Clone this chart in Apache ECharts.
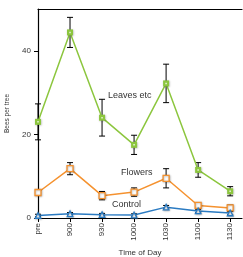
<!DOCTYPE html>
<html><head><meta charset="utf-8">
<script src="https://cdn.jsdelivr.net/npm/echarts@6/dist/echarts.min.js"></script>
<style>html,body{margin:0;padding:0;background:#fff}#c{width:243px;height:257px}</style>
</head><body><div id="c"></div>
<script>
var categories = ['pre','900','930','1000','1030','1100','1130'];
var leavesMean = [23.0, 44.4, 24.0, 17.5, 32.2, 11.5, 6.4];
var leavesErr  = [4.3, 3.6, 4.4, 2.3, 4.6, 1.75, 1.1];
var flowersMean = [6.1, 11.8, 5.35, 6.2, 9.5, 3.0, 2.4];
var flowersErr  = [0.7, 1.45, 1.0, 1.0, 2.3, 0.6, 0.7];
var controlMean = [0.6, 1.0, 0.8, 0.7, 2.6, 1.7, 1.2];
var controlErr  = [0.3, 0.3, 0.3, 0.3, 0.4, 0.4, 0.4];
var yTicks = [0, 20, 40];
var yMax = 50;
var seriesNames = ['Leaves etc', 'Flowers', 'Control'];

function pts(arr){ return arr.map(function(v,i){ return [i, v]; }); }
function errData(m, e){ return m.map(function(v,i){ return [i, v - e[i], v + e[i]]; }); }

var chart = echarts.init(document.getElementById('c'), null, {renderer:'canvas'});
var txt = '#333';
var font = 'Liberation Sans, Arial, sans-serif';

function errSeries(m, e){
  return {
    type: 'custom', z: 1,
    data: errData(m, e),
    renderItem: function(params, api){
      var x = api.value(0);
      var lo = api.coord([x, api.value(1)]);
      var hi = api.coord([x, api.value(2)]);
      var w = 3;
      var st = {stroke:'#000', lineWidth:1};
      return {type:'group', children:[
        {type:'line', shape:{x1:lo[0],y1:lo[1],x2:hi[0],y2:hi[1]}, style:st},
        {type:'line', shape:{x1:lo[0]-w,y1:lo[1],x2:lo[0]+w,y2:lo[1]}, style:st},
        {type:'line', shape:{x1:hi[0]-w,y1:hi[1],x2:hi[0]+w,y2:hi[1]}, style:st}
      ]};
    }
  };
}

var shadow = {shadowBlur:2, shadowColor:'rgba(0,0,0,0.3)', shadowOffsetX:0.5, shadowOffsetY:0.5};

chart.setOption({
  animation: false,
  backgroundColor: '#fff',
  grid: {left: 38, right: 1, top: 9, bottom: 39, outerBoundsMode: 'none'},
  xAxis: [{
    type: 'value', min: 0, max: 6.37,
    axisLine: {show:true, onZero:false, lineStyle:{color:'#000', width:1.2}},
    axisTick: {show:true, length:4, inside:false, customValues:[0,1,2,3,4,5,6], lineStyle:{color:'#000'}},
    axisLabel: {customValues:[0,1,2,3,4,5,6], rotate:90, align:'right', verticalAlign:'middle', margin:5, fontSize:8, color:txt, fontFamily:font, hideOverlap:false,
      formatter: function(v){ return categories[Math.round(v)] || ''; }},
    splitLine: {show:false},
    name: 'Time of Day', nameLocation:'middle', nameGap: 31,
    nameTextStyle: {fontSize:8, color:txt, fontFamily:font}
  },{
    type: 'value', position: 'top', min: 0, max: 6.37,
    axisLine: {show:true, onZero:false, lineStyle:{color:'#000', width:1.2}},
    axisTick: {show:false}, axisLabel: {show:false}, splitLine: {show:false}
  }],
  yAxis: {
    type: 'value', min: 0, max: yMax,
    axisLine: {show:true, onZero:false, lineStyle:{color:'#000', width:1.2}},
    axisTick: {show:true, length:4, customValues: yTicks, lineStyle:{color:'#000'}},
    axisLabel: {customValues: yTicks, margin:7, fontSize:8, color:txt, fontFamily:font},
    splitLine: {show:false},
    name: 'Bees per tree', nameLocation:'middle', nameGap: 26, nameRotate: 90,
    nameTextStyle: {fontSize:6.5, color:txt, fontFamily:font}
  },
  series: [
    errSeries(leavesMean, leavesErr),
    errSeries(flowersMean, flowersErr),
    errSeries(controlMean, controlErr),
    {name: seriesNames[0], type:'line', z:3, data: pts(leavesMean), symbol:'rect', symbolSize:6,
      lineStyle:{color:'#8cc63e', width:1.5}, itemStyle:Object.assign({color:'#8cc63e'}, shadow)},
    {type:'scatter', z:4, data: pts(leavesMean), symbol:'rect', symbolSize:1.5, itemStyle:{color:'#fff'}, silent:true},
    {name: seriesNames[1], type:'line', z:3, data: pts(flowersMean), symbol:'rect', symbolSize:6, showAllSymbol:true,
      lineStyle:{color:'#f5922f', width:1.5}, itemStyle:Object.assign({color:'#fff', borderColor:'#f5922f', borderWidth:1.3}, shadow)},
    {name: seriesNames[2], type:'line', z:3, data: pts(controlMean), symbol:'triangle', symbolSize:5.5, showAllSymbol:true,
      lineStyle:{color:'#2b7bc2', width:1.5}, itemStyle:Object.assign({color:'#fff', borderColor:'#2b7bc2', borderWidth:1.3}, shadow)}
  ],
  graphic: [
    {type:'text', left:108, top:91, style:{text:seriesNames[0], fontSize:9, fill:txt, fontFamily:font}},
    {type:'text', left:121, top:168, style:{text:seriesNames[1], fontSize:9, fill:txt, fontFamily:font}},
    {type:'text', left:112, top:200, style:{text:seriesNames[2], fontSize:9, fill:txt, fontFamily:font}}
  ]
});
</script>
</body></html>
